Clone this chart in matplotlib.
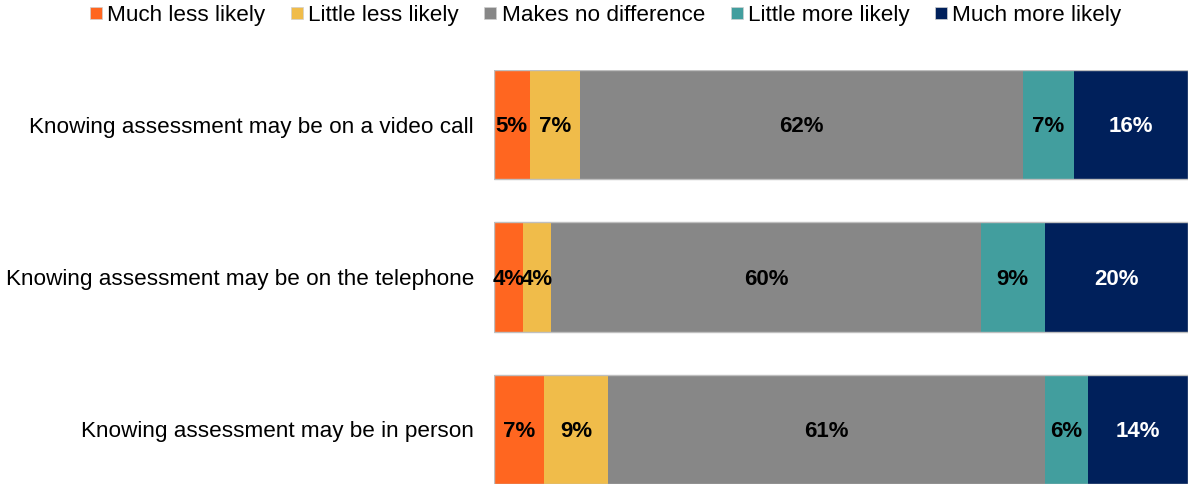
import matplotlib
matplotlib.use("Agg")
import matplotlib.pyplot as plt
from matplotlib.lines import Line2D
import numpy as np

plt.rcParams['font.family'] = ['Liberation Sans', 'DejaVu Sans']

categories = [
    "Knowing assessment may be on a video call",
    "Knowing assessment may be on the telephone",
    "Knowing assessment may be in person",
]
series_names = ["Much less likely", "Little less likely", "Makes no difference",
                "Little more likely", "Much more likely"]
much_less = [5, 4, 7]
little_less = [7, 4, 9]
no_difference = [62, 60, 61]
little_more = [7, 9, 6]
much_more = [16, 20, 14]

colors = ["#FF6620", "#F0BC4A", "#878787", "#429E9E", "#00205B"]
text_colors = ["black", "black", "black", "black", "white"]

series = [much_less, little_less, no_difference, little_more, much_more]
totals = np.sum(np.array(series), axis=0)

W, H = 1188, 484
fig = plt.figure(figsize=(W / 100, H / 100), dpi=100)
ax = fig.add_axes([494 / W, 0, 1 - 494 / W, 414 / H])

bar_h = 0.715
y = np.arange(len(categories))
left = np.zeros(len(categories))
for vals, col, tcol in zip(series, colors, text_colors):
    vals = np.array(vals, dtype=float)
    ax.barh(y, vals, left=left, height=bar_h, color=col, edgecolor='none')
    for yi, (l, v) in enumerate(zip(left, vals)):
        ax.text(l + v / 2, yi + 0.015, f"{int(v)}%", ha='center', va='center',
                fontsize=16, fontweight='bold', color=tcol)
    left += vals

# thin outline around each full bar
ax.barh(y, totals, height=bar_h, fill=False, edgecolor='#BFBFBF', linewidth=1.0)

ax.set_xlim(0, totals.max())
ax.set_ylim(len(categories) - 1 + bar_h / 2, -bar_h / 2)
ax.set_yticks(y)
ax.set_yticklabels(categories, fontsize=16.2)
ax.tick_params(axis='y', length=0, pad=14.4)
ax.set_xticks([])
for s in ax.spines.values():
    s.set_visible(False)

handles = [Line2D([], [], marker='s', linestyle='none', markersize=8,
                  markerfacecolor=c, markeredgecolor='#D0D0D0', markeredgewidth=0.5)
           for c in colors]
fig.legend(handles, series_names, loc='upper center', bbox_to_anchor=(0.51, 1.032),
           ncol=5, frameon=False, fontsize=16.2, handlelength=0.5,
           handletextpad=0.25, columnspacing=1.15)

fig.savefig("out.png", dpi=100)
